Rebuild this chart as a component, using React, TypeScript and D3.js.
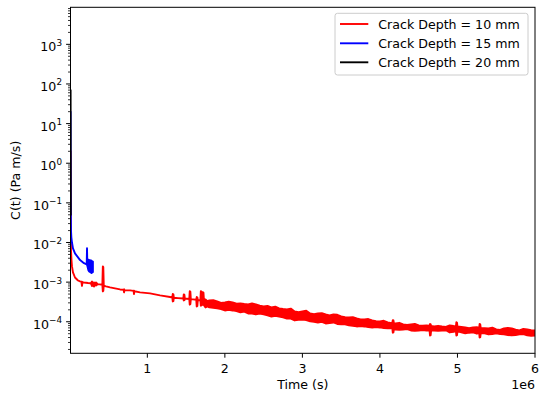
import React from "react";
import * as d3 from "d3";

// ---------- data (time in seconds, C(t) in Pa m/s) ----------
const seriesNames = ["Crack Depth = 10 mm", "Crack Depth = 15 mm", "Crack Depth = 20 mm"];
const seriesColors = ["#ff0000", "#0000ff", "#000000"];

const xTickValues = [1e6, 2e6, 3e6, 4e6, 5e6, 6e6];
const xTickLabels = ["1", "2", "3", "4", "5", "6"];
const yTickExponents = [-4, -3, -2, -1, 0, 1, 2, 3];

// Red (10 mm): per-sample upper / lower envelope of the noisy trace
const redTime = [
  0.009e6, 0.012e6, 0.0155e6, 0.022e6, 0.028e6, 0.041e6, 0.067e6, 0.106e6, 0.132e6, 0.15e6,
  0.157e6, 0.164e6, 0.183e6, 0.235e6, 0.27e6, 0.286e6, 0.3e6, 0.312e6, 0.325e6, 0.338e6,
  0.36e6, 0.39e6, 0.42e6, 0.426e6, 0.432e6, 0.438e6, 0.467e6, 0.519e6, 0.583e6, 0.648e6,
  0.695e6, 0.7e6, 0.705e6, 0.777e6, 0.823e6, 0.828e6, 0.833e6, 0.906e6, 1.035e6, 1.164e6,
  1.293e6, 1.322e6, 1.328e6, 1.336e6, 1.342e6, 1.396e6, 1.464e6, 1.47e6, 1.478e6, 1.484e6,
  1.512e6, 1.541e6, 1.547e6, 1.555e6, 1.561e6, 1.59e6, 1.631e6, 1.637e6, 1.645e6, 1.651e6,
  1.667e6, 1.684e6, 1.69e6, 1.698e6, 1.704e6, 1.71e6, 1.716e6, 1.724e6, 1.73e6, 1.75e6,
  1.775e6, 1.8e6, 1.85e6, 1.9e6, 1.95e6, 2.0e6, 2.05e6, 2.1e6, 2.15e6, 2.2e6,
  2.25e6, 2.3e6, 2.35e6, 2.4e6, 2.45e6, 2.5e6, 2.55e6, 2.6e6, 2.65e6, 2.7e6,
  2.75e6, 2.8e6, 2.85e6, 2.9e6, 2.95e6, 3.0e6, 3.05e6, 3.1e6, 3.15e6, 3.2e6,
  3.25e6, 3.3e6, 3.35e6, 3.4e6, 3.45e6, 3.5e6, 3.55e6, 3.6e6, 3.65e6, 3.7e6,
  3.75e6, 3.8e6, 3.85e6, 3.9e6, 3.95e6, 4.0e6, 4.05e6, 4.1e6, 4.135e6, 4.16e6,
  4.166e6, 4.174e6, 4.18e6, 4.2e6, 4.25e6, 4.3e6, 4.35e6, 4.4e6, 4.45e6, 4.5e6,
  4.55e6, 4.6e6, 4.64e6, 4.646e6, 4.654e6, 4.66e6, 4.7e6, 4.75e6, 4.8e6, 4.85e6,
  4.9e6, 4.95e6, 4.98e6, 4.986e6, 4.994e6, 5.0e6, 5.05e6, 5.1e6, 5.15e6, 5.2e6,
  5.25e6, 5.28e6, 5.286e6, 5.294e6, 5.3e6, 5.35e6, 5.4e6, 5.45e6, 5.5e6, 5.55e6,
  5.6e6, 5.65e6, 5.7e6, 5.75e6, 5.8e6, 5.85e6, 5.9e6, 5.95e6, 6.0e6,
];
const redHigh = [
  2.0, 0.05, 6.3e-3, 3.5e-3, 2.49e-3, 1.76e-3, 1.31e-3, 1.1e-3, 1.04e-3, 1.02e-3,
  1.02e-3, 1.0e-3, 9.8e-4, 9.5e-4, 9.4e-4, 1.04e-3, 9.5e-4, 9.8e-4, 9.2e-4, 9.8e-4,
  8.9e-4, 8.75e-4, 8.5e-4, 2.49e-3, 2.4e-3, 8.1e-4, 7.8e-4, 7.35e-4, 6.93e-4, 6.54e-4,
  6.4e-4, 6.6e-4, 6.3e-4, 6.18e-4, 6.0e-4, 6.1e-4, 5.9e-4, 5.5e-4, 5.19e-4, 4.62e-4,
  4.2e-4, 4.1e-4, 5.0e-4, 4.9e-4, 4.05e-4, 3.95e-4, 3.85e-4, 4.9e-4, 4.8e-4, 3.85e-4,
  3.8e-4, 3.75e-4, 5.9e-4, 5.7e-4, 3.7e-4, 3.66e-4, 3.6e-4, 4.2e-4, 4.1e-4, 3.55e-4,
  3.5e-4, 3.5e-4, 5.9e-4, 5.8e-4, 3.45e-4, 3.45e-4, 5.6e-4, 5.4e-4, 3.6e-4, 3.66e-4,
  3.3e-4, 3.45e-4, 3.5e-4, 3.26e-4, 3.0e-4, 3.08e-4, 3.2e-4, 3.08e-4, 2.85e-4, 2.9e-4,
  2.8e-4, 2.74e-4, 2.9e-4, 2.74e-4, 2.55e-4, 2.44e-4, 2.5e-4, 2.3e-4, 2.4e-4, 2.17e-4,
  2.1e-4, 2.05e-4, 2.15e-4, 1.82e-4, 1.75e-4, 1.82e-4, 1.9e-4, 1.62e-4, 1.55e-4, 1.62e-4,
  1.65e-4, 1.53e-4, 1.45e-4, 1.53e-4, 1.5e-4, 1.36e-4, 1.3e-4, 1.28e-4, 1.3e-4, 1.21e-4,
  1.15e-4, 1.14e-4, 1.17e-4, 1.08e-4, 1.04e-4, 1.02e-4, 1.06e-4, 9.6e-5, 9.3e-5, 9.5e-5,
  1.1e-4, 1.08e-4, 9.2e-5, 9.06e-5, 9.4e-5, 8.57e-5, 8.3e-5, 8.57e-5, 8.8e-5, 8.08e-5,
  7.9e-5, 8.08e-5, 8.0e-5, 8.8e-5, 8.6e-5, 7.8e-5, 7.62e-5, 7.9e-5, 7.62e-5, 7.4e-5,
  8.08e-5, 7.8e-5, 7.7e-5, 9.8e-5, 9.5e-5, 7.62e-5, 7.4e-5, 7.19e-5, 6.9e-5, 7.19e-5,
  7.3e-5, 7.0e-5, 8.8e-5, 8.6e-5, 6.9e-5, 6.9e-5, 6.79e-5, 7.1e-5, 6.4e-5, 6.2e-5,
  6.79e-5, 7.0e-5, 6.79e-5, 6.3e-5, 6.04e-5, 6.6e-5, 6.4e-5, 6.1e-5, 6.04e-5,
];
const redLow = [
  2.0, 0.05, 6.3e-3, 3.5e-3, 2.49e-3, 1.76e-3, 1.31e-3, 1.1e-3, 1.04e-3, 1.02e-3,
  8.0e-4, 1.0e-3, 9.8e-4, 9.5e-4, 9.4e-4, 8.0e-4, 8.5e-4, 7.8e-4, 8.6e-4, 8.25e-4,
  8.9e-4, 8.75e-4, 8.5e-4, 5.83e-4, 6.0e-4, 8.1e-4, 7.8e-4, 7.35e-4, 6.93e-4, 6.54e-4,
  6.4e-4, 5.5e-4, 6.3e-4, 6.18e-4, 6.0e-4, 5.0e-4, 5.9e-4, 5.5e-4, 5.19e-4, 4.62e-4,
  4.2e-4, 4.1e-4, 3.26e-4, 3.3e-4, 4.05e-4, 3.95e-4, 3.85e-4, 3.45e-4, 3.5e-4, 3.85e-4,
  3.8e-4, 3.75e-4, 2.7e-4, 2.8e-4, 3.7e-4, 3.66e-4, 3.6e-4, 2.44e-4, 2.5e-4, 3.55e-4,
  3.5e-4, 3.5e-4, 2.55e-4, 2.6e-4, 3.3e-4, 3.2e-4, 2.7e-4, 2.75e-4, 2.6e-4, 2.3e-4,
  2.45e-4, 2.3e-4, 2.25e-4, 2.17e-4, 2.1e-4, 1.93e-4, 2.0e-4, 1.93e-4, 1.85e-4, 1.72e-4,
  1.8e-4, 1.62e-4, 1.6e-4, 1.53e-4, 1.6e-4, 1.53e-4, 1.45e-4, 1.36e-4, 1.42e-4, 1.36e-4,
  1.3e-4, 1.21e-4, 1.2e-4, 1.08e-4, 1.12e-4, 1.14e-4, 1.1e-4, 1.02e-4, 1.0e-4, 9.6e-5,
  9.9e-5, 9.06e-5, 9.3e-5, 9.6e-5, 8.8e-5, 8.57e-5, 8.6e-5, 8.08e-5, 7.9e-5, 7.62e-5,
  7.8e-5, 7.62e-5, 7.3e-5, 7.19e-5, 7.4e-5, 7.19e-5, 6.9e-5, 6.79e-5, 6.9e-5, 6.7e-5,
  5.3e-5, 5.4e-5, 6.5e-5, 6.4e-5, 6.3e-5, 6.4e-5, 6.5e-5, 6.04e-5, 5.9e-5, 6.04e-5,
  6.2e-5, 6.04e-5, 6.0e-5, 4.5e-5, 4.6e-5, 6.0e-5, 6.04e-5, 5.9e-5, 6.04e-5, 6.1e-5,
  5.38e-5, 5.6e-5, 5.8e-5, 4.5e-5, 4.6e-5, 5.7e-5, 5.4e-5, 5.08e-5, 5.3e-5, 5.38e-5,
  5.0e-5, 5.2e-5, 4.0e-5, 4.1e-5, 5.1e-5, 5.1e-5, 4.79e-5, 4.9e-5, 5.08e-5, 4.9e-5,
  4.79e-5, 4.6e-5, 4.52e-5, 4.6e-5, 4.79e-5, 4.9e-5, 4.52e-5, 4.4e-5, 4.52e-5,
];

// Blue (15 mm)
const blueTime = [
  0.0095e6, 0.0105e6, 0.012e6, 0.0155e6, 0.02e6, 0.028e6, 0.041e6, 0.067e6, 0.106e6, 0.132e6,
  0.183e6, 0.21e6, 0.218e6, 0.222e6, 0.226e6, 0.24e6, 0.25e6, 0.26e6, 0.27e6, 0.28e6,
  0.29e6, 0.298e6,
];
const blueHigh = [
  20, 1.5, 0.1, 0.02, 0.0135, 0.01, 7.1e-3, 5.3e-3, 4.2e-3, 3.6e-3,
  3.0e-3, 2.85e-3, 2.8e-3, 7.2e-3, 2.9e-3, 3.7e-3, 3.3e-3, 3.6e-3, 3.1e-3, 3.5e-3,
  3.2e-3, 3.3e-3,
];
const blueLow = [
  20, 1.5, 0.1, 0.02, 0.0135, 0.01, 7.1e-3, 5.3e-3, 4.2e-3, 3.6e-3,
  3.0e-3, 2.85e-3, 2.8e-3, 2.7e-3, 2.6e-3, 2.0e-3, 1.85e-3, 1.8e-3, 1.75e-3, 1.7e-3,
  1.75e-3, 1.8e-3,
];

// Black (20 mm)
const blackTime = [0.0105e6, 0.011e6, 0.0115e6, 0.012e6];
const blackValue = [70, 8, 0.6, 0.05];

const FONT = "DejaVu Sans, Liberation Sans, sans-serif";

export default function App() {
  const W = 542, H = 399;
  const left = 70.5, right = 535, top = 7.3, bottom = 353.3;
  const x = d3.scaleLinear().domain([0.009e6, 6e6]).range([left, right]);
  const y = d3.scaleLog().domain([1.6e-5, 8.6e3]).range([bottom, top]);

  const bandPath = (t: number[], hi: number[], lo: number[]) =>
    d3
      .area<number>()
      .x((i) => x(t[i]))
      .y0((i) => y(lo[i]))
      .y1((i) => y(hi[i]))(d3.range(t.length)) || "";

  const series = [
    { t: redTime, hi: redHigh, lo: redLow, c: seriesColors[0] },
    { t: blueTime, hi: blueHigh, lo: blueLow, c: seriesColors[1] },
    { t: blackTime, hi: blackValue, lo: blackValue, c: seriesColors[2] },
  ];

  const minorTicks: number[] = [];
  for (let k = -5; k <= 3; k++) {
    for (let m = 2; m <= 9; m++) {
      const v = m * Math.pow(10, k);
      const [d0, d1] = y.domain();
      if (v >= d0 && v <= d1) minorTicks.push(v);
    }
  }

  const fs = 12.6;
  const legendX = 335, legendY = 13.3, legendW = 193, legendH = 61.7;
  const legendRows = [24, 43.3, 62.3];

  return (
    <svg width={W} height={H} style={{ position: "absolute", left: 0, top: 0, background: "#fff" }} fontFamily={FONT}>
      <rect x={0} y={0} width={W} height={H} fill="#fff" />
      <defs>
        <clipPath id="plot">
          <rect x={left} y={top} width={right - left} height={bottom - top} />
        </clipPath>
      </defs>
      <g clipPath="url(#plot)">
        {series.map((s, i) => (
          <path key={i} d={bandPath(s.t, s.hi, s.lo)} fill={s.c} stroke={s.c} strokeWidth={1.9} strokeLinejoin="round" strokeLinecap="square" />
        ))}
      </g>

      {/* x ticks */}
      {xTickValues.map((v, i) => (
        <g key={i}>
          <line x1={x(v)} x2={x(v)} y1={bottom} y2={bottom + 4.4} stroke="#000" strokeWidth={1} />
          <text x={x(v)} y={bottom + 19.4} fontSize={fs} textAnchor="middle" fill="#000">{xTickLabels[i]}</text>
        </g>
      ))}
      <text x={right} y={389.3} fontSize={fs} textAnchor="end" fill="#000">1e6</text>
      <text x={(left + right) / 2} y={389} fontSize={fs} textAnchor="middle" fill="#000">Time (s)</text>

      {/* y ticks */}
      {minorTicks.map((v, i) => (
        <line key={"m" + i} x1={left - 2.5} x2={left} y1={y(v)} y2={y(v)} stroke="#000" strokeWidth={0.8} />
      ))}
      {yTickExponents.map((e) => {
        const yy = y(Math.pow(10, e));
        return (
          <g key={e}>
            <line x1={left - 4.4} x2={left} y1={yy} y2={yy} stroke="#000" strokeWidth={1} />
            <text x={62} y={yy + 7} fontSize={fs} textAnchor="end" fill="#000">
              10
              <tspan fontSize={fs * 0.7} dy={-5.5}>{e < 0 ? "\u2212" + Math.abs(e) : String(e)}</tspan>
            </text>
          </g>
        );
      })}
      <text transform={`translate(20,${(top + bottom) / 2}) rotate(-90)`} fontSize={fs} textAnchor="middle" fill="#000">C(t) (Pa m/s)</text>

      {/* frame */}
      <rect x={left} y={top} width={right - left} height={bottom - top} fill="none" stroke="#000" strokeWidth={1} />

      {/* legend */}
      <rect x={legendX} y={legendY} width={legendW} height={legendH} rx={2.5} fill="#fff" fillOpacity={0.8} stroke="#cccccc" strokeWidth={1} />
      {seriesNames.map((n, i) => (
        <g key={n}>
          <line x1={340} x2={368.3} y1={legendRows[i]} y2={legendRows[i]} stroke={seriesColors[i]} strokeWidth={1.9} />
          <text x={378.3} y={legendRows[i] + 4.5} fontSize={fs} fill="#000">{n}</text>
        </g>
      ))}
    </svg>
  );
}
